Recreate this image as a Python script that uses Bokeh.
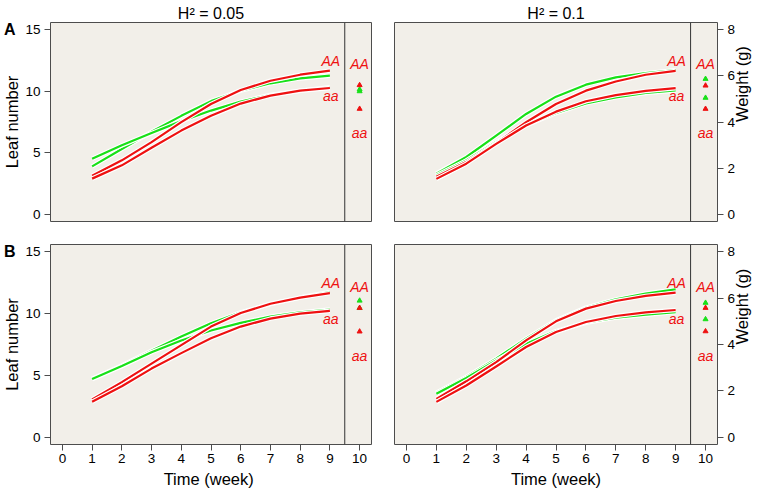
import math
from bokeh.plotting import figure
from bokeh.models import Range1d, FixedTicker, Span, LinearAxis
from bokeh.layouts import column, row
from bokeh.embed import file_html
from bokeh.resources import INLINE
from bokeh.core.properties import value

# ---------------- data ----------------
weeks = [1, 2, 3, 4, 5, 6, 7, 8, 9]
x_ticks = [0, 1, 2, 3, 4, 5, 6, 7, 8, 9, 10]
leaf_ticks = [0, 5, 10, 15]
weight_ticks = [0, 2, 4, 6, 8]
genotypes = ["AA", "aa"]
side_week = 10
column_titles = ["H\u00b2 = 0.05", "H\u00b2 = 0.1"]
panel_letters = ["A", "B"]

# Panel A, H^2 = 0.05 (leaf number)
leaf_A_green_AA = [3.89, 5.30, 6.70, 8.00, 9.20, 10.05, 10.65, 11.05, 11.27]
leaf_A_green_aa = [4.51, 5.60, 6.60, 7.57, 8.43, 9.16, 9.70, 10.05, 10.32]
leaf_A_red_AA = [3.12, 4.38, 5.86, 7.49, 8.97, 10.10, 10.86, 11.35, 11.68]
leaf_A_red_aa = [2.89, 3.97, 5.40, 6.80, 8.00, 9.00, 9.65, 10.05, 10.27]
leaf_A_side_green = [10.15, 10.0]
leaf_A_side_red = [10.5, 8.57]

# Panel A, H^2 = 0.1 (weight)
wt_A_green_AA = [1.76, 2.48, 3.41, 4.35, 5.10, 5.62, 5.94, 6.12, 6.25]
wt_A_green_aa = [1.69, 2.33, 3.13, 3.85, 4.39, 4.81, 5.07, 5.26, 5.37]
wt_A_red_AA = [1.62, 2.26, 3.08, 3.99, 4.78, 5.36, 5.76, 6.05, 6.22]
wt_A_red_aa = [1.53, 2.19, 3.05, 3.85, 4.45, 4.90, 5.17, 5.35, 5.47]
wt_A_side_green = [5.87, 5.05]
wt_A_side_red = [5.58, 4.57]

# Panel B, H^2 = 0.05 (leaf number)
leaf_B_green_AA = [4.73, 5.80, 7.00, 8.15, 9.22, 10.10, 10.78, 11.30, 11.75]
leaf_B_green_aa = [4.70, 5.75, 6.88, 7.82, 8.63, 9.25, 9.76, 10.10, 10.33]
leaf_B_red_AA = [3.05, 4.45, 5.95, 7.45, 8.95, 10.05, 10.80, 11.30, 11.66]
leaf_B_red_aa = [2.86, 4.12, 5.55, 6.80, 8.00, 8.95, 9.60, 10.00, 10.23]
leaf_B_side_green = [11.05, 10.45]
leaf_B_side_red = [10.46, 8.55]

# Panel B, H^2 = 0.1 (weight)
wt_B_green_AA = [1.92, 2.60, 3.39, 4.25, 5.04, 5.59, 5.95, 6.20, 6.38]
wt_B_green_aa = [1.87, 2.55, 3.31, 4.03, 4.58, 4.94, 5.16, 5.29, 5.40]
wt_B_red_AA = [1.65, 2.41, 3.24, 4.18, 5.00, 5.55, 5.88, 6.10, 6.24]
wt_B_red_aa = [1.52, 2.23, 3.05, 3.89, 4.54, 4.97, 5.23, 5.39, 5.49]
wt_B_side_green = [5.80, 5.09]
wt_B_side_red = [5.58, 4.57]

# ---------------- style ----------------
FONT = "Liberation Sans"
BG = "#F2EFE9"
RED = "#EE1111"
GREEN = "#18E018"
FRAME = "#4d4d4d"


def style_axis(ax):
    ax.axis_line_color = None
    ax.major_tick_line_color = FRAME
    ax.major_tick_out = 6
    ax.major_tick_in = 0
    ax.minor_tick_line_color = None
    ax.major_label_text_font = FONT
    ax.major_label_text_font_size = "13.5px"
    ax.major_label_text_color = "black"
    ax.axis_label_text_font = FONT
    ax.axis_label_text_font_style = "normal"
    ax.axis_label_text_font_size = "16.5px"
    ax.axis_label_text_color = "black"


def make_panel(kind, green_AA, green_aa, red_AA, red_aa, side_green, side_red,
               top, left, panel_letter, title_text):
    if kind == "leaf":
        ymax = 15.0
        ticks = leaf_ticks
    else:
        ymax = 8.0
        ticks = weight_ticks
    pad = ymax * 0.04
    w = 382 if left else 383
    h = 232 if top else 262
    frame_h = 199 if top else 200
    ppy = frame_h / (ymax + 2 * pad)
    p = figure(width=w, height=h, output_backend="svg", toolbar_location=None,
               x_range=Range1d(-0.4, 10.4), y_range=Range1d(-pad, ymax + pad),
               x_axis_location=None if top else "below",
               y_axis_location="left" if left else "right",
               min_border_left=49 if left else 12,
               min_border_right=11 if left else 48,
               min_border_top=22 if top else 12,
               min_border_bottom=11 if top else 50)
    p.background_fill_color = BG
    p.border_fill_color = "white"
    p.outline_line_color = FRAME
    p.outline_line_width = 1
    p.xgrid.visible = False
    p.ygrid.visible = False

    axes = list(p.yaxis) + ([] if top else list(p.xaxis))
    for ax in axes:
        style_axis(ax)
    p.yaxis.ticker = FixedTicker(ticks=ticks)
    if left:
        p.yaxis.axis_label = "Leaf number"
        p.yaxis.major_label_standoff = 4
        p.yaxis.axis_label_standoff = 1
    else:
        p.yaxis.axis_label = "Weight (g)"
        p.yaxis.major_label_standoff = 4
        p.yaxis.axis_label_standoff = 4
        try:
            for ax in p.yaxis:
                ax.axis_label_orientation = math.pi / 2
        except Exception:
            pass
    if not top:
        p.xaxis.ticker = FixedTicker(ticks=x_ticks)
        p.xaxis.axis_label = "Time  (week)" if left else "Time (week)"
        p.xaxis.major_label_standoff = 3
        p.xaxis.axis_label_standoff = 4

    # column title
    if top:
        p.title.text = title_text
        p.title.align = "center"
        p.title.text_font = FONT
        p.title.text_font_size = "16px"
        p.title.text_font_style = "normal"
        p.title.text_color = "black"
        p.title.standoff = 1

    # panel letter (A / B) at the top-left corner, as a one-tick outer axis
    if left:
        letter_y = ymax + pad - 6.5 / ppy
        letter_axis = LinearAxis(ticker=FixedTicker(ticks=[letter_y]),
                                 major_label_overrides={letter_y: panel_letter})
        letter_axis.axis_line_color = None
        letter_axis.major_tick_line_color = None
        letter_axis.minor_tick_line_color = None
        letter_axis.major_tick_out = 0
        letter_axis.major_tick_in = 0
        letter_axis.major_label_standoff = -15
        letter_axis.major_label_text_font = FONT
        letter_axis.major_label_text_font_size = "16px"
        letter_axis.major_label_text_font_style = "bold"
        letter_axis.major_label_text_color = "black"
        p.add_layout(letter_axis, "left")

    # divider between the curves and the side strip
    p.add_layout(Span(location=9.5, dimension="height", line_color="#333333", line_width=1))

    # curves with white halo
    for ys, col in ((green_AA, GREEN), (green_aa, GREEN), (red_AA, RED), (red_aa, RED)):
        p.line(weeks, ys, line_color="white", line_width=4.5, line_join="round")
        p.line(weeks, ys, line_color=col, line_width=2.2, line_join="round")

    # side strip markers
    p.scatter([side_week] * len(side_green), side_green, marker="triangle",
              size=5, fill_color=GREEN, line_color=GREEN)
    p.scatter([side_week] * len(side_red), side_red, marker="triangle",
              size=5, fill_color=RED, line_color=RED)

    # genotype labels
    p.text(x=[9.03, 9.03], y=[ymax * 0.83, ymax * 0.64], text=genotypes,
           text_color=RED, text_font=value(FONT), text_font_style="italic",
           text_font_size="14px", text_align="center", text_baseline="middle")
    p.text(x=[side_week, side_week], y=[ymax * 0.813, ymax * 0.44], text=genotypes,
           text_color=RED, text_font=value(FONT), text_font_style="italic",
           text_font_size="14px", text_align="center", text_baseline="middle")
    return p


pA1 = make_panel("leaf", leaf_A_green_AA, leaf_A_green_aa, leaf_A_red_AA, leaf_A_red_aa,
                 leaf_A_side_green, leaf_A_side_red, True, True, panel_letters[0], column_titles[0])
pA2 = make_panel("weight", wt_A_green_AA, wt_A_green_aa, wt_A_red_AA, wt_A_red_aa,
                 wt_A_side_green, wt_A_side_red, True, False, panel_letters[0], column_titles[1])
pB1 = make_panel("leaf", leaf_B_green_AA, leaf_B_green_aa, leaf_B_red_AA, leaf_B_red_aa,
                 leaf_B_side_green, leaf_B_side_red, False, True, panel_letters[1], column_titles[0])
pB2 = make_panel("weight", wt_B_green_AA, wt_B_green_aa, wt_B_red_AA, wt_B_red_aa,
                 wt_B_side_green, wt_B_side_red, False, False, panel_letters[1], column_titles[1])

layout = column(row(pA1, pA2, spacing=0), row(pB1, pB2, spacing=0), spacing=0)
open("out.html", "w").write(file_html(layout, INLINE))
